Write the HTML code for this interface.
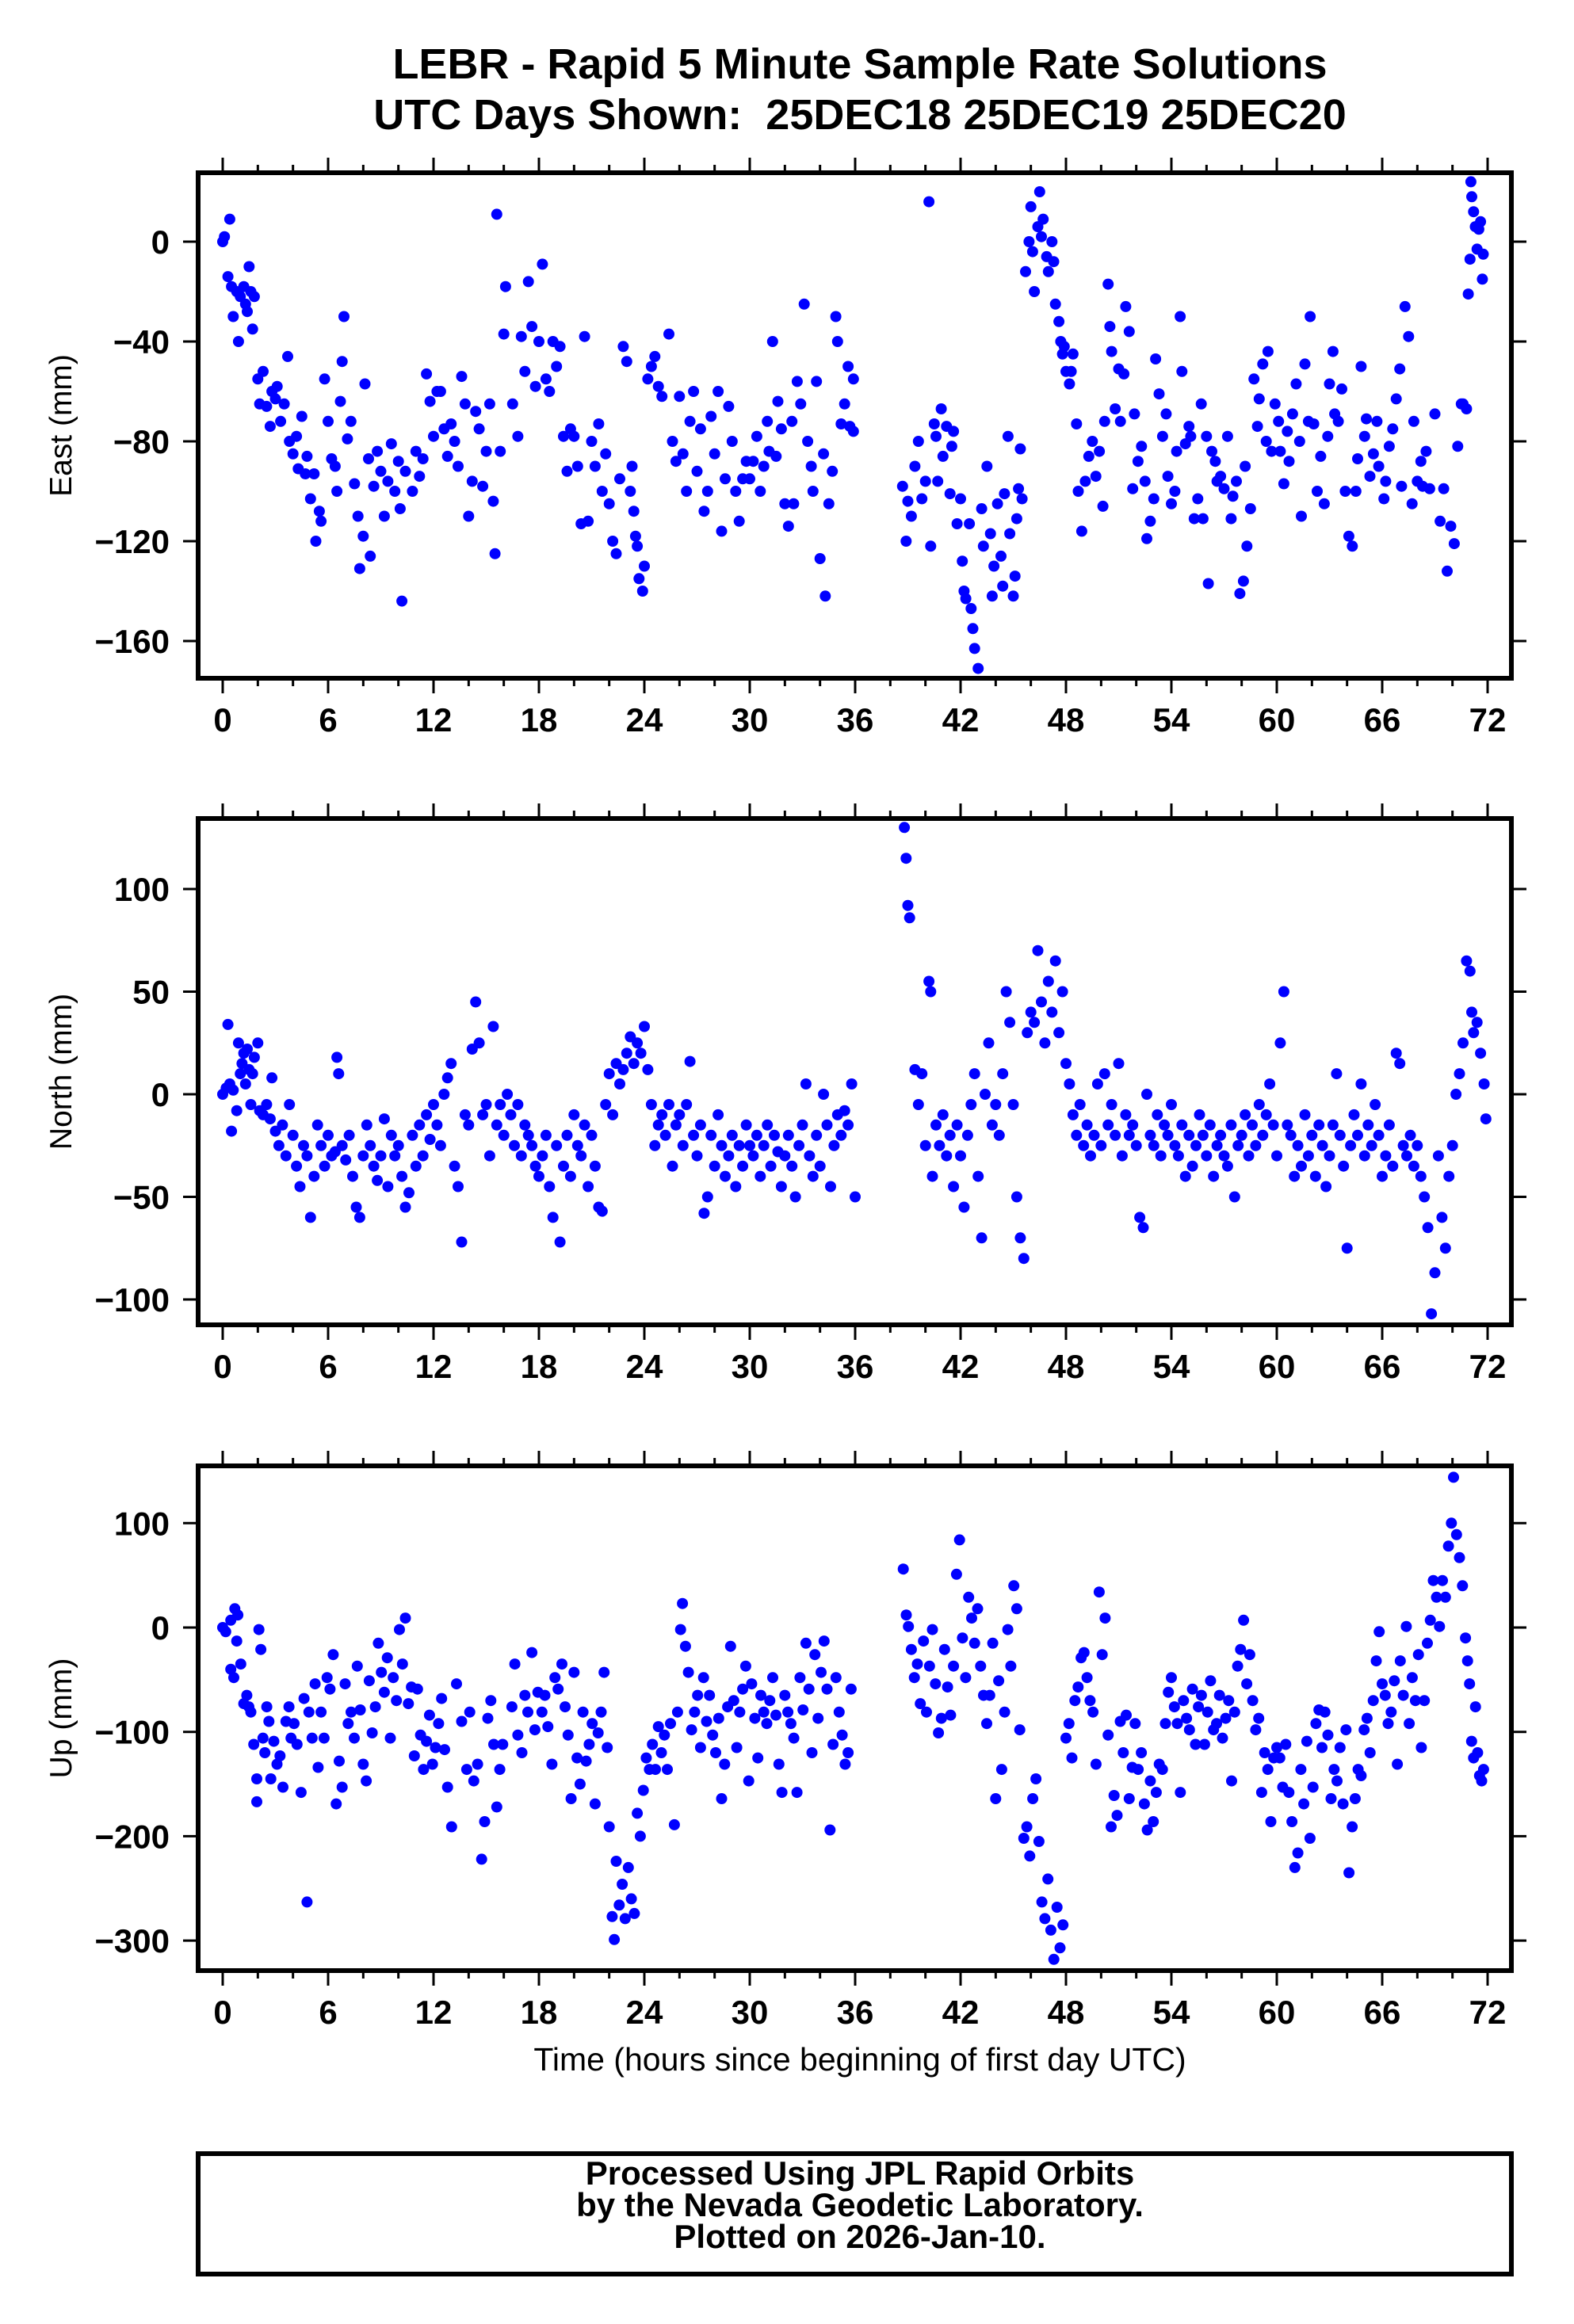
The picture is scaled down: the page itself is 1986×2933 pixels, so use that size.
<!DOCTYPE html>
<html><head><meta charset="utf-8"><title>LEBR Rapid 5 Minute Solutions</title>
<style>html,body{margin:0;padding:0;background:#fff}svg{display:block}text{font-family:"Liberation Sans",sans-serif}</style>
</head><body>
<svg id="chart" width="1986" height="2933" viewBox="0 0 1986 2933" xmlns="http://www.w3.org/2000/svg">
<rect x="0" y="0" width="1986" height="2933" fill="#fff"/>
<text x="1085" y="99" font-size="54" font-weight="bold" text-anchor="middle">LEBR - Rapid 5 Minute Sample Rate Solutions</text>
<text x="1085" y="163" font-size="54" font-weight="bold" text-anchor="middle" xml:space="preserve">UTC Days Shown:  25DEC18 25DEC19 25DEC20</text>
<text x="1085" y="2613" font-size="41" text-anchor="middle">Time (hours since beginning of first day UTC)</text>
<rect x="250" y="2718" width="1657" height="152" fill="none" stroke="#000" stroke-width="6"/>
<text x="1085" y="2757" font-size="42" font-weight="bold" text-anchor="middle">Processed Using JPL Rapid Orbits</text>
<text x="1085" y="2797" font-size="42" font-weight="bold" text-anchor="middle">by the Nevada Geodetic Laboratory.</text>
<text x="1085" y="2837" font-size="42" font-weight="bold" text-anchor="middle">Plotted on 2026-Jan-10.</text>
</svg>
<script>
const xTicks = [0,6,12,18,24,30,36,42,48,54,60,66,72];
const eastTicks = [0,-40,-80,-120,-160];
const northTicks = [100,50,0,-50,-100];
const upTicks = [100,0,-100,-200,-300];
const eastData = [[0,0],[0.1,2],[0.3,-14],[0.4,9],[0.5,-18],[0.6,-30],[0.8,-20],[0.9,-40],[1.0,-22],[1.2,-18],[1.3,-25],[1.4,-28],[1.5,-10],[1.6,-20],[1.7,-35],[1.8,-22],[2.0,-55],[2.1,-65],[2.3,-52],[2.5,-66],[2.7,-74],[2.8,-60],[3.0,-63],[3.1,-58],[3.3,-72],[3.5,-65],[3.7,-46],[3.8,-80],[4.0,-85],[4.2,-78],[4.3,-91],[4.5,-70],[4.7,-93],[4.8,-86],[5.0,-103],[5.2,-93],[5.3,-120],[5.5,-108],[5.6,-112],[5.8,-55],[6.0,-72],[6.2,-87],[6.4,-90],[6.5,-100],[6.7,-64],[6.8,-48],[6.9,-30],[7.1,-79],[7.3,-72],[7.5,-97],[7.7,-110],[7.8,-131],[8.0,-118],[8.1,-57],[8.3,-87],[8.4,-126],[8.6,-98],[8.8,-84],[9.0,-92],[9.2,-110],[9.4,-96],[9.6,-81],[9.8,-100],[10.0,-88],[10.1,-107],[10.2,-144],[10.4,-92],[10.8,-100],[11.0,-84],[11.2,-94],[11.4,-87],[11.6,-53],[11.8,-64],[12.0,-78],[12.2,-60],[12.4,-60],[12.6,-75],[12.8,-86],[13.0,-73],[13.2,-80],[13.4,-90],[13.6,-54],[13.8,-65],[14.0,-110],[14.2,-96],[14.4,-68],[14.6,-75],[14.8,-98],[15.0,-84],[15.2,-65],[15.4,-104],[15.5,-125],[15.6,11],[15.8,-84],[16.0,-37],[16.1,-18],[16.5,-65],[16.8,-78],[17.0,-38],[17.2,-52],[17.4,-16],[17.6,-34],[17.8,-58],[18.0,-40],[18.2,-9],[18.4,-55],[18.6,-60],[18.8,-40],[19.0,-50],[19.2,-42],[19.4,-78],[19.6,-92],[19.8,-75],[20.0,-78],[20.2,-90],[20.4,-113],[20.6,-38],[20.8,-112],[21.0,-80],[21.2,-90],[21.4,-73],[21.6,-100],[21.8,-85],[22.0,-105],[22.2,-120],[22.4,-125],[22.6,-95],[22.8,-42],[23.0,-48],[23.2,-100],[23.3,-90],[23.4,-108],[23.5,-118],[23.6,-122],[23.7,-135],[23.9,-140],[24.0,-130],[24.2,-55],[24.4,-50],[24.6,-46],[24.8,-58],[25.0,-62],[25.4,-37],[25.6,-80],[25.8,-88],[26.0,-62],[26.2,-85],[26.4,-100],[26.6,-72],[26.8,-60],[27.0,-92],[27.2,-75],[27.4,-108],[27.6,-100],[27.8,-70],[28.0,-85],[28.2,-60],[28.4,-116],[28.6,-95],[28.8,-66],[29.0,-80],[29.2,-100],[29.4,-112],[29.6,-95],[29.8,-88],[30.0,-95],[30.2,-88],[30.4,-78],[30.6,-100],[30.8,-90],[31.0,-72],[31.1,-84],[31.3,-40],[31.5,-86],[31.6,-64],[31.8,-75],[32.0,-105],[32.2,-114],[32.4,-72],[32.5,-105],[32.7,-56],[32.9,-65],[33.1,-25],[33.3,-80],[33.5,-90],[33.6,-100],[33.8,-56],[34.0,-127],[34.2,-85],[34.3,-142],[34.5,-105],[34.7,-92],[34.9,-30],[35.0,-40],[35.2,-73],[35.4,-65],[35.6,-50],[35.7,-74],[35.9,-76],[35.9,-55],
[38.7,-98],[38.9,-120],[39.0,-104],[39.2,-110],[39.4,-90],[39.6,-80],[39.8,-103],[40.0,-96],[40.2,16],[40.3,-122],[40.5,-73],[40.6,-78],[40.7,-96],[40.9,-67],[41.0,-86],[41.2,-74],[41.4,-101],[41.5,-82],[41.6,-76],[41.8,-113],[42.0,-103],[42.1,-128],[42.2,-140],[42.3,-143],[42.5,-113],[42.6,-147],[42.7,-155],[42.8,-163],[43.0,-171],[43.2,-107],[43.3,-122],[43.5,-90],[43.7,-117],[43.8,-142],[43.9,-130],[44.1,-105],[44.3,-126],[44.4,-138],[44.5,-101],[44.7,-78],[44.8,-117],[45.0,-142],[45.1,-134],[45.2,-111],[45.3,-99],[45.4,-83],[45.5,-103],[45.7,-12],[45.9,0],[46.0,14],[46.1,-4],[46.2,-20],[46.4,6],[46.5,20],[46.6,2],[46.7,9],[46.9,-6],[47.0,-12],[47.2,0],[47.3,-8],[47.4,-25],[47.6,-32],[47.7,-40],[47.8,-45],[47.9,-42],[48.0,-52],[48.2,-57],[48.3,-52],[48.4,-45],
[48.6,-73],[48.7,-100],[48.9,-116],[49.1,-96],[49.3,-86],[49.5,-80],[49.7,-94],[49.9,-84],[50.1,-106],[50.2,-72],[50.4,-17],[50.5,-34],[50.6,-44],[50.8,-67],[51.0,-51],[51.1,-72],[51.3,-53],[51.4,-26],[51.6,-36],[51.8,-99],[51.9,-69],[52.1,-88],[52.3,-82],[52.5,-96],[52.6,-119],[52.8,-112],[53.0,-103],[53.1,-47],[53.3,-61],[53.5,-78],[53.7,-69],[53.8,-94],[54.0,-105],[54.2,-100],[54.3,-84],[54.5,-30],[54.6,-52],[54.8,-81],[55.0,-74],[55.1,-78],[55.3,-111],[55.5,-103],[55.7,-65],[55.8,-111],[56.0,-78],[56.1,-137],[56.3,-84],[56.5,-88],[56.6,-96],[56.8,-94],[57.0,-99],[57.2,-78],[57.4,-111],[57.5,-102],[57.7,-96],[57.9,-141],[58.1,-136],[58.2,-90],[58.3,-122],[58.5,-107],[58.7,-55],[58.9,-74],[59.0,-63],[59.2,-49],[59.4,-80],[59.5,-44],[59.7,-84],[59.9,-65],[60.1,-72],[60.2,-84],[60.4,-97],[60.6,-76],[60.7,-88],[60.9,-69],[61.1,-57],[61.3,-80],[61.4,-110],[61.6,-49],[61.8,-72],[61.9,-30],[62.1,-73],[62.3,-100],[62.5,-86],[62.7,-105],[62.9,-78],[63.0,-57],[63.2,-44],[63.3,-69],[63.5,-72],[63.7,-59],[63.9,-100],[64.1,-118],[64.3,-122],[64.5,-100],[64.6,-87],[64.8,-50],[65.0,-78],[65.1,-71],[65.3,-94],[65.5,-85],[65.7,-72],[65.8,-90],[66.1,-103],[66.2,-96],[66.4,-82],[66.6,-75],[66.8,-63],[67.0,-51],[67.1,-98],[67.3,-26],[67.5,-38],[67.7,-105],[67.8,-72],[68.0,-96],[68.2,-88],[68.3,-98],[68.5,-84],[68.7,-99],[69.0,-69],[69.3,-112],[69.5,-99],[69.7,-132],[69.9,-114],[70.1,-121],[70.3,-82],[70.5,-65],[70.6,-65],[70.8,-67],[70.9,-21],[71.0,-7],[71.05,24],[71.1,18],[71.2,12],[71.3,6],[71.4,-3],[71.5,5],[71.6,8],[71.7,-15],[71.75,-5]];
const northData = [[0.0,0],[0.2,3],[0.3,34],[0.4,5],[0.5,-18],[0.6,2],[0.8,-8],[0.9,25],[1.0,10],[1.1,15],[1.2,20],[1.3,5],[1.4,22],[1.5,12],[1.6,-5],[1.7,10],[1.8,18],[2.0,25],[2.1,-8],[2.3,-10],[2.5,-5],[2.7,-12],[2.8,8],[3.0,-18],[3.2,-25],[3.4,-15],[3.6,-30],[3.8,-5],[4.0,-20],[4.2,-35],[4.4,-45],[4.6,-25],[4.8,-30],[5.0,-60],[5.2,-40],[5.4,-15],[5.6,-25],[5.8,-35],[6.0,-20],[6.2,-30],[6.4,-28],[6.5,18],[6.6,10],[6.8,-25],[7.0,-32],[7.2,-20],[7.4,-40],[7.6,-55],[7.8,-60],[8.0,-30],[8.2,-15],[8.4,-25],[8.6,-35],[8.8,-42],[9.0,-30],[9.2,-12],[9.4,-45],[9.6,-20],[9.8,-30],[10.0,-25],[10.2,-40],[10.4,-55],[10.6,-48],[10.8,-20],[11.0,-35],[11.2,-15],[11.4,-30],[11.6,-10],[11.8,-22],[12.0,-5],[12.2,-15],[12.4,-25],[12.6,0],[12.8,8],[13.0,15],[13.2,-35],[13.4,-45],[13.6,-72],[13.8,-10],[14.0,-15],[14.2,22],[14.4,45],[14.6,25],[14.8,-10],[15.0,-5],[15.2,-30],[15.4,33],[15.6,-15],[15.8,-5],[16.0,-20],[16.2,0],[16.4,-10],[16.6,-25],[16.8,-5],[17.0,-30],[17.2,-15],[17.4,-20],[17.6,-25],[17.8,-35],[18.0,-40],[18.2,-30],[18.4,-20],[18.6,-45],[18.8,-60],[19.0,-25],[19.2,-72],[19.4,-35],[19.6,-20],[19.8,-40],[20.0,-10],[20.2,-25],[20.4,-30],[20.6,-15],[20.8,-45],[21.0,-20],[21.2,-35],[21.4,-55],[21.6,-57],[21.8,-5],[22.0,10],[22.2,-10],[22.4,15],[22.6,5],[22.8,12],[23.0,20],[23.2,28],[23.4,15],[23.6,25],[23.8,20],[24.0,33],[24.2,12],[24.4,-5],[24.6,-25],[24.8,-15],[25.0,-10],[25.2,-20],[25.4,-5],[25.6,-35],[25.8,-15],[26.0,-10],[26.2,-25],[26.4,-5],[26.6,16],[26.8,-20],[27.0,-30],[27.2,-15],[27.4,-58],[27.6,-50],[27.8,-20],[28.0,-35],[28.2,-10],[28.4,-25],[28.6,-40],[28.8,-30],[29.0,-20],[29.2,-45],[29.4,-25],[29.6,-35],[29.8,-15],[30.0,-25],[30.2,-30],[30.4,-20],[30.6,-40],[30.8,-25],[31.0,-15],[31.2,-35],[31.4,-20],[31.6,-28],[31.8,-45],[32.0,-30],[32.2,-20],[32.4,-35],[32.6,-50],[32.8,-25],[33.0,-15],[33.2,5],[33.4,-30],[33.6,-40],[33.8,-20],[34.0,-35],[34.2,0],[34.4,-15],[34.6,-45],[34.8,-25],[35.0,-10],[35.2,-20],[35.4,-8],[35.6,-15],[35.8,5],[36.0,-50],
[38.8,130],[38.9,115],[39.0,92],[39.1,86],[39.4,12],[39.6,-5],[39.8,10],[40.0,-25],[40.2,55],[40.3,50],[40.4,-40],[40.6,-15],[40.8,-25],[41.0,-10],[41.2,-30],[41.4,-20],[41.6,-45],[41.8,-15],[42.0,-30],[42.2,-55],[42.4,-20],[42.6,-5],[42.8,10],[43.0,-40],[43.2,-70],[43.4,0],[43.6,25],[43.8,-15],[44.0,-5],[44.2,-20],[44.4,10],[44.6,50],[44.8,35],[45.0,-5],[45.2,-50],[45.4,-70],[45.6,-80],[45.8,30],[46.0,40],[46.2,35],[46.4,70],[46.6,45],[46.8,25],[47.0,55],[47.2,40],[47.4,65],[47.6,30],[47.8,50],[48.0,15],[48.2,5],[48.4,-10],[48.6,-20],[48.8,-5],[49.0,-25],[49.2,-15],[49.4,-30],[49.6,-20],[49.8,5],[50.0,-25],[50.2,10],[50.4,-15],[50.6,-5],[50.8,-20],[51.0,15],[51.2,-30],[51.4,-10],[51.6,-20],[51.8,-15],[52.0,-25],[52.2,-60],[52.4,-65],[52.6,0],[52.8,-20],[53.0,-25],[53.2,-10],[53.4,-30],[53.6,-15],[53.8,-20],[54.0,-5],[54.2,-25],[54.4,-30],[54.6,-15],[54.8,-40],[55.0,-20],[55.2,-35],[55.4,-25],[55.6,-10],[55.8,-20],[56.0,-30],[56.2,-15],[56.4,-40],[56.6,-25],[56.8,-20],[57.0,-30],[57.2,-35],[57.4,-15],[57.6,-50],[57.8,-25],[58.0,-20],[58.2,-10],[58.4,-30],[58.6,-15],[58.8,-25],[59.0,-5],[59.2,-20],[59.4,-10],[59.6,5],[59.8,-15],[60.0,-30],[60.2,25],[60.4,50],[60.6,-15],[60.8,-20],[61.0,-40],[61.2,-25],[61.4,-35],[61.6,-10],[61.8,-30],[62.0,-20],[62.2,-40],[62.4,-15],[62.6,-25],[62.8,-45],[63.0,-30],[63.2,-15],[63.4,10],[63.6,-20],[63.8,-35],[64.0,-75],[64.2,-25],[64.4,-10],[64.6,-20],[64.8,5],[65.0,-30],[65.2,-15],[65.4,-25],[65.6,-5],[65.8,-20],[66.0,-40],[66.2,-30],[66.4,-15],[66.6,-35],[66.8,20],[67.0,15],[67.2,-25],[67.4,-30],[67.6,-20],[67.8,-35],[68.0,-25],[68.2,-40],[68.4,-50],[68.6,-65],[68.8,-107],[69.0,-87],[69.2,-30],[69.4,-60],[69.6,-75],[69.8,-40],[70.0,-25],[70.2,0],[70.4,10],[70.6,25],[70.8,65],[71.0,60],[71.1,40],[71.2,30],[71.4,35],[71.6,20],[71.8,5],[71.9,-12]];
const upData = [[0.0,0],[0.17,-4],[0.46,7],[0.69,18],[0.86,12],[0.46,-40],[0.63,-48],[0.8,-13],[1.03,-35],[1.2,-73],[1.37,-65],[1.49,-76],[1.6,-81],[1.77,-112],[1.94,-145],[1.94,-167],[2.06,-2],[2.17,-21],[2.29,-106],[2.4,-120],[2.51,-76],[2.63,-90],[2.74,-145],[2.91,-109],[3.09,-131],[3.26,-123],[3.43,-153],[3.6,-90],[3.77,-76],[3.89,-106],[4.06,-92],[4.23,-112],[4.46,-158],[4.63,-68],[4.8,-263],[4.91,-81],[5.09,-106],[5.26,-54],[5.43,-134],[5.6,-81],[5.77,-106],[5.94,-48],[6.11,-59],[6.29,-26],[6.46,-169],[6.63,-128],[6.8,-153],[6.97,-54],[7.14,-92],[7.31,-81],[7.49,-106],[7.66,-37],[7.83,-79],[8.0,-131],[8.17,-147],[8.34,-51],[8.51,-101],[8.69,-76],[8.86,-15],[9.03,-43],[9.2,-62],[9.37,-29],[9.54,-106],[9.71,-48],[9.89,-70],[10.06,-2],[10.23,-35],[10.4,9],[10.57,-73],[10.74,-57],[10.91,-123],[11.09,-59],[11.26,-103],[11.43,-136],[11.6,-109],[11.77,-84],[11.94,-131],[12.11,-115],[12.29,-92],[12.46,-68],[12.63,-117],[12.8,-153],[13.03,-191],[13.31,-54],[13.6,-90],[13.89,-136],[14.06,-81],[14.29,-147],[14.51,-131],[14.74,-222],[14.91,-186],[15.09,-87],[15.26,-70],[15.43,-112],[15.6,-172],[15.77,-136],[15.94,-112],[16.46,-76],[16.63,-35],[16.8,-103],[17.03,-120],[17.2,-65],[17.37,-81],[17.6,-24],[17.77,-98],[17.94,-62],[18.17,-81],[18.34,-65],[18.51,-95],[18.74,-131],[18.91,-48],[19.09,-59],[19.31,-35],[19.49,-76],[19.66,-103],[19.83,-164],[20.0,-43],[20.17,-125],[20.34,-150],[20.51,-81],[20.69,-128],[20.86,-112],[21.03,-92],[21.2,-169],[21.37,-101],[21.54,-81],[21.71,-43],[21.89,-115],[22.0,-191],[22.17,-277],[22.29,-299],[22.4,-224],[22.57,-266],[22.74,-246],[22.91,-279],[23.09,-230],[23.26,-260],[23.43,-274],[23.6,-178],[23.77,-200],[23.94,-156],[24.11,-125],[24.29,-136],[24.46,-112],[24.63,-136],[24.8,-95],[24.97,-120],[25.14,-103],[25.31,-136],[25.49,-92],[25.71,-189],[25.89,-81],[26.06,-2],[26.17,23],[26.34,-18],[26.51,-43],[26.69,-98],[26.86,-81],[27.03,-65],[27.2,-115],[27.37,-48],[27.54,-90],[27.71,-65],[27.89,-103],[28.06,-120],[28.23,-87],[28.4,-164],[28.57,-131],[28.74,-76],[28.91,-18],[29.09,-70],[29.26,-115],[29.43,-81],[29.6,-59],[29.77,-37],[29.94,-147],[30.11,-54],[30.29,-87],[30.46,-125],[30.63,-65],[30.8,-81],[30.97,-92],[31.14,-70],[31.31,-48],[31.49,-84],[31.66,-131],[31.83,-158],[32.0,-65],[32.17,-81],[32.34,-92],[32.51,-106],[32.69,-158],[32.86,-48],[33.03,-79],[33.2,-15],[33.37,-59],[33.54,-120],[33.71,-26],[33.89,-87],[34.06,-43],[34.23,-13],[34.4,-59],[34.57,-194],[34.74,-112],[34.91,-48],[35.09,-81],[35.26,-103],[35.43,-131],[35.6,-120],[35.77,-59],
[38.74,56],[38.91,12],[39.03,1],[39.2,-21],[39.37,-48],[39.54,-35],[39.71,-73],[39.89,-13],[40.06,-81],[40.23,-37],[40.4,-2],[40.57,-54],[40.74,-101],[40.91,-87],[41.09,-21],[41.26,-57],[41.43,-84],[41.6,-37],[41.77,51],[41.94,84],[42.11,-10],[42.29,-48],[42.46,29],[42.63,9],[42.8,-15],[42.97,18],[43.14,-37],[43.31,-65],[43.49,-92],[43.66,-65],[43.83,-15],[44.0,-164],[44.17,-51],[44.34,-136],[44.51,-81],[44.69,-2],[44.86,-37],[45.03,40],[45.2,18],[45.37,-98],[45.6,-202],[45.77,-191],[45.94,-219],[46.11,-164],[46.29,-145],[46.46,-205],[46.63,-263],[46.8,-279],[46.97,-241],[47.14,-290],[47.31,-318],[47.49,-268],[47.66,-307],[47.83,-285],[48.0,-106],[48.17,-92],[48.34,-125],[48.51,-70],[48.69,-57],[48.86,-29],[49.03,-24],[49.2,-48],[49.37,-70],[49.54,-81],[49.71,-131],[49.89,34],[50.06,-26],[50.23,9],[50.4,-103],[50.57,-191],[50.74,-161],[50.91,-180],[51.09,-90],[51.26,-120],[51.43,-84],[51.6,-164],[51.77,-134],[51.94,-92],[52.11,-136],[52.29,-120],[52.46,-169],[52.63,-194],[52.8,-147],[52.97,-186],[53.14,-158],[53.31,-131],[53.49,-136],[53.66,-92],[53.83,-62],[54.0,-48],[54.17,-76],[54.34,-92],[54.51,-158],[54.69,-70],[54.86,-87],[55.03,-98],[55.2,-59],[55.37,-112],[55.54,-76],[55.71,-65],[55.89,-112],[56.06,-81],[56.23,-51],[56.4,-98],[56.57,-92],[56.74,-65],[56.91,-106],[57.09,-87],[57.26,-70],[57.43,-147],[57.6,-81],[57.77,-37],[57.94,-21],[58.11,7],[58.29,-54],[58.46,-26],[58.63,-70],[58.8,-98],[58.97,-87],[59.14,-158],[59.31,-120],[59.49,-136],[59.66,-186],[59.83,-125],[60.0,-115],[60.17,-125],[60.34,-153],[60.51,-112],[60.69,-158],[60.86,-186],[61.03,-230],[61.2,-216],[61.37,-136],[61.54,-169],[61.71,-109],[61.89,-202],[62.06,-153],[62.23,-92],[62.4,-79],[62.57,-115],[62.74,-81],[62.91,-103],[63.09,-164],[63.26,-136],[63.43,-147],[63.6,-115],[63.77,-169],[63.94,-98],[64.11,-235],[64.29,-191],[64.46,-164],[64.63,-136],[64.8,-142],[64.97,-98],[65.14,-87],[65.31,-120],[65.49,-70],[65.66,-32],[65.83,-4],[66.0,-54],[66.17,-65],[66.34,-92],[66.51,-81],[66.69,-51],[66.86,-131],[67.03,-32],[67.2,-65],[67.37,1],[67.54,-92],[67.71,-48],[67.89,-70],[68.06,-26],[68.23,-115],[68.4,-70],[68.57,-15],[68.74,7],[68.91,45],[69.09,29],[69.26,1],[69.43,45],[69.6,29],[69.77,78],[69.94,100],[70.06,144],[70.23,89],[70.4,67],[70.57,40],[70.74,-10],[70.86,-32],[70.97,-54],[71.09,-109],[71.2,-125],[71.31,-76],[71.43,-120],[71.54,-142],[71.66,-147],[71.77,-136]];

const NS = 'http://www.w3.org/2000/svg';
const svg = document.getElementById('chart');
const X0 = 250, X1 = 1907;
function xScale(t){ return 281 + t * (1877 - 281) / 72; }
const panels = [
  {key:'east', title:'East (mm)', top:218, bottom:856, zeroY:305, ppu:3.15, ticks:eastTicks, data:eastData},
  {key:'north', title:'North (mm)', top:1033, bottom:1672, zeroY:1381, ppu:2.59, ticks:northTicks, data:northData},
  {key:'up', title:'Up (mm)', top:1850, bottom:2487, zeroY:2054, ppu:1.317, ticks:upTicks, data:upData}
];
function mk(tag, attrs){ const e = document.createElementNS(NS, tag); for (const k in attrs) e.setAttribute(k, attrs[k]); return e; }
function fmt(v){ return v < 0 ? '\u2212' + Math.abs(v) : String(v); }
panels.forEach(p => {
  const yScale = v => p.zeroY - v * p.ppu;
  const g = mk('g', {});
  
  
  svg.appendChild(g);
  const clipId = 'clip-' + p.key;
  const cp = mk('clipPath', {id: clipId});
  cp.appendChild(mk('rect', {x: X0, y: p.top, width: X1 - X0, height: p.bottom - p.top}));
  g.appendChild(cp);
  const dots = mk('g', {fill: '#0000ff', 'clip-path': 'url(#' + clipId + ')'});
  
  
  g.appendChild(dots);
  p.data.forEach(d => {
    const c = mk('circle', {cx: xScale(d[0]).toFixed(1), cy: yScale(d[1]).toFixed(1), r: 7});
    
    
    dots.appendChild(c);
  });
  for (let t = 0; t <= 72; t += 2) {
    const major = t % 6 === 0;
    const L = major ? 19 : 10;
    const x = xScale(t);
    const tb = mk('line', {x1: x, x2: x, y1: p.bottom, y2: p.bottom + L, stroke: '#000', 'stroke-width': 3});
    
    
    g.appendChild(tb);
    const tt = mk('line', {x1: x, x2: x, y1: p.top, y2: p.top - L, stroke: '#000', 'stroke-width': 3});
    
    
    g.appendChild(tt);
  }
  xTicks.forEach(t => {
    const lab = mk('text', {x: xScale(t), y: p.bottom + 67, 'font-size': 42, 'font-weight': 'bold', 'text-anchor': 'middle'});
    lab.textContent = String(t);
    
    
    g.appendChild(lab);
  });
  p.ticks.forEach(v => {
    const y = yScale(v);
    const l1 = mk('line', {x1: X0 - 19, x2: X0, y1: y, y2: y, stroke: '#000', 'stroke-width': 3});
    
    
    g.appendChild(l1);
    const l2 = mk('line', {x1: X1, x2: X1 + 19, y1: y, y2: y, stroke: '#000', 'stroke-width': 3});
    
    
    g.appendChild(l2);
    const lab = mk('text', {x: 214, y: y + 15, 'font-size': 42, 'font-weight': 'bold', 'text-anchor': 'end'});
    lab.textContent = fmt(v);
    
    
    g.appendChild(lab);
  });
  const frame = mk('rect', {x: X0, y: p.top, width: X1 - X0, height: p.bottom - p.top, fill: 'none', stroke: '#000', 'stroke-width': 6});
  
  
  g.appendChild(frame);
  const cy = (p.top + p.bottom) / 2;
  const yt = mk('text', {x: 90, y: cy, 'font-size': 39, 'text-anchor': 'middle', transform: 'rotate(-90 90 ' + cy + ')'});
  yt.textContent = p.title;
  
  
  g.appendChild(yt);
});
</script>
</body></html>
